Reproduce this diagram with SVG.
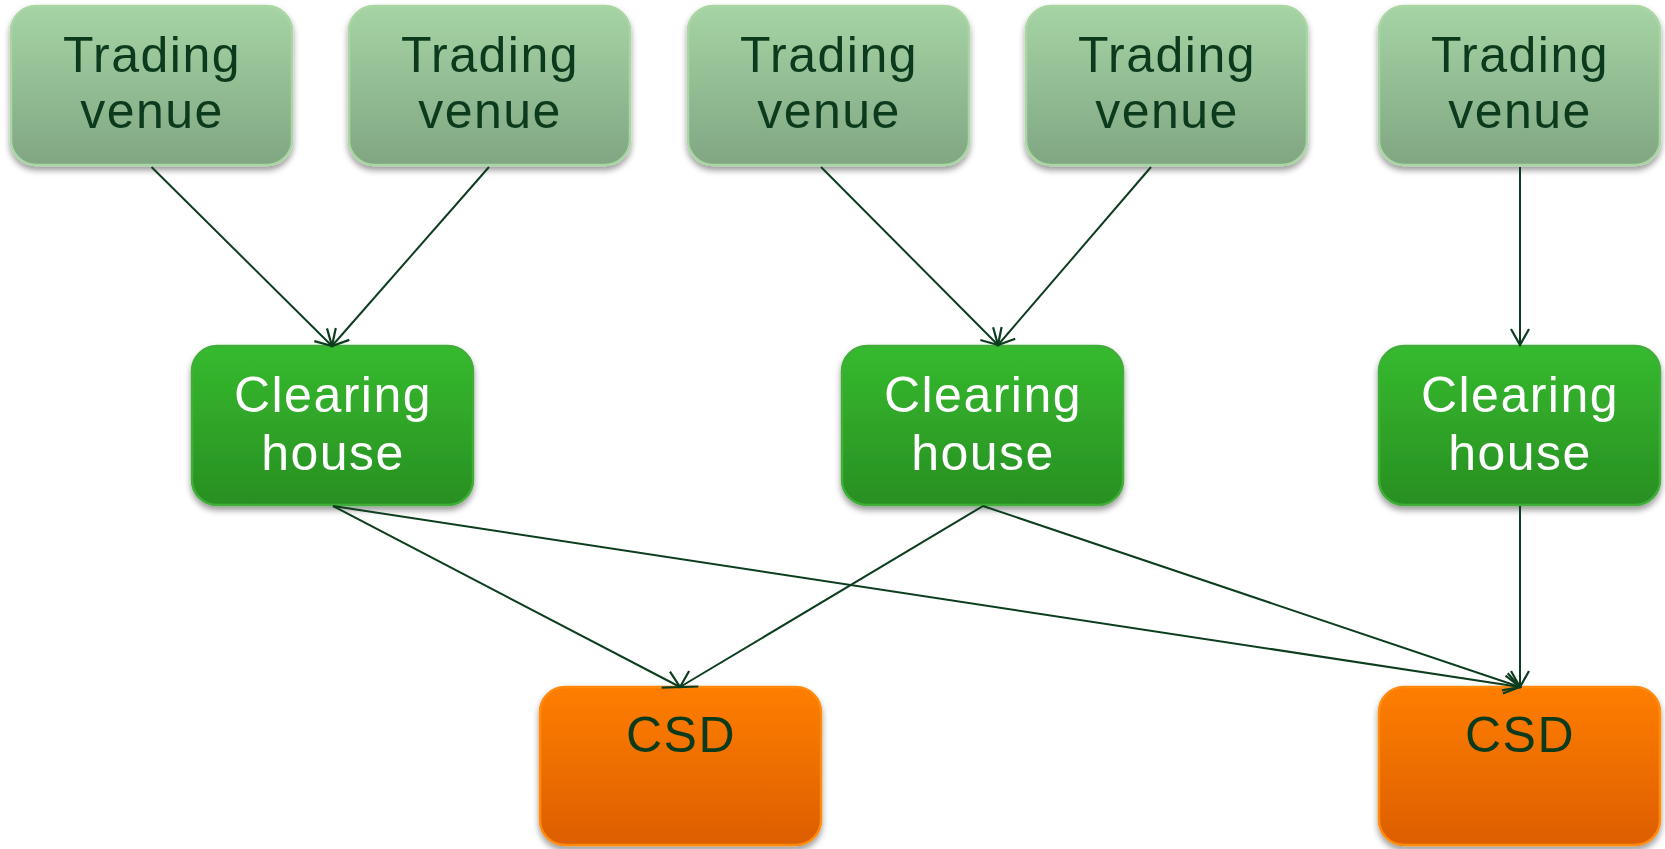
<svg xmlns="http://www.w3.org/2000/svg" width="1665" height="849" viewBox="0 0 1665 849">
<style>
.box{stroke-width:2.5}
.tv{fill:url(#gTV);stroke:#a9d6a3}
.ch{fill:url(#gCH);stroke:#3fae38}
.csd{fill:url(#gCSD);stroke:#ff8a10}
text{font-family:"Liberation Sans",Arial,sans-serif;font-size:50px;text-anchor:middle;letter-spacing:1.5px}
.dk{fill:#0b3b1c}
.wt{fill:#ffffff}
.conn line{stroke:#0d3d1f;stroke-width:2;fill:none;marker-end:url(#arr)}
</style>
<defs>
<linearGradient id="gTV" x1="0" y1="0" x2="0" y2="1">
<stop offset="0" stop-color="#a6d4a5"/>
<stop offset="1" stop-color="#80a682"/>
</linearGradient>
<linearGradient id="gCH" x1="0" y1="0" x2="0" y2="1">
<stop offset="0" stop-color="#36ba2f"/>
<stop offset="1" stop-color="#288f21"/>
</linearGradient>
<linearGradient id="gCSD" x1="0" y1="0" x2="0" y2="1">
<stop offset="0" stop-color="#ff7e00"/>
<stop offset="1" stop-color="#dc5e00"/>
</linearGradient>
<filter id="sh" x="-10%" y="-10%" width="120%" height="130%">
<feDropShadow dx="0" dy="4" stdDeviation="3" flood-color="#000" flood-opacity="0.4"/>
</filter>
<marker id="arr" markerUnits="userSpaceOnUse" markerWidth="24" markerHeight="24" refX="17" refY="10" orient="auto" viewBox="0 0 24 20">
<path d="M1,1 L17,10 L1,19" fill="none" stroke="#0d3d1f" stroke-width="2.2"/>
</marker>
</defs>
<g id="tv1"><rect class="box tv" x="11" y="6" width="281" height="159" rx="25" filter="url(#sh)"/><text class="dk" x="152" y="72">Trading</text><text class="dk" x="152" y="128">venue</text></g>
<g id="tv2"><rect class="box tv" x="349" y="6" width="281" height="159" rx="25" filter="url(#sh)"/><text class="dk" x="490" y="72">Trading</text><text class="dk" x="490" y="128">venue</text></g>
<g id="tv3"><rect class="box tv" x="688" y="6" width="281" height="159" rx="25" filter="url(#sh)"/><text class="dk" x="829" y="72">Trading</text><text class="dk" x="829" y="128">venue</text></g>
<g id="tv4"><rect class="box tv" x="1026" y="6" width="281" height="159" rx="25" filter="url(#sh)"/><text class="dk" x="1167" y="72">Trading</text><text class="dk" x="1167" y="128">venue</text></g>
<g id="tv5"><rect class="box tv" x="1379" y="6" width="281" height="159" rx="25" filter="url(#sh)"/><text class="dk" x="1520" y="72">Trading</text><text class="dk" x="1520" y="128">venue</text></g>
<g id="ch1"><rect class="box ch" x="192" y="346" width="281" height="159" rx="25" filter="url(#sh)"/><text class="wt" x="333" y="412">Clearing</text><text class="wt" x="333" y="470">house</text></g>
<g id="ch2"><rect class="box ch" x="842" y="346" width="281" height="159" rx="25" filter="url(#sh)"/><text class="wt" x="983" y="412">Clearing</text><text class="wt" x="983" y="470">house</text></g>
<g id="ch3"><rect class="box ch" x="1379" y="346" width="281" height="159" rx="25" filter="url(#sh)"/><text class="wt" x="1520" y="412">Clearing</text><text class="wt" x="1520" y="470">house</text></g>
<g id="csd1"><rect class="box csd" x="540" y="687" width="281" height="158" rx="25" filter="url(#sh)"/><text class="dk" x="681" y="752">CSD</text></g>
<g id="csd2"><rect class="box csd" x="1379" y="687" width="281" height="158" rx="25" filter="url(#sh)"/><text class="dk" x="1520" y="752">CSD</text></g>
<g id="connectors" class="conn">
<line x1="151.5" y1="167" x2="332" y2="346"/>
<line x1="489" y1="167" x2="332" y2="346"/>
<line x1="821" y1="167" x2="998" y2="345"/>
<line x1="1151" y1="167" x2="998" y2="345"/>
<line x1="1520" y1="167" x2="1520" y2="345"/>
<line x1="333" y1="506" x2="680" y2="687"/>
<line x1="333" y1="506" x2="1520" y2="687"/>
<line x1="983" y1="506" x2="680" y2="687"/>
<line x1="983" y1="506" x2="1520" y2="687"/>
<line x1="1520" y1="506" x2="1520" y2="687"/>
</g>
</svg>
